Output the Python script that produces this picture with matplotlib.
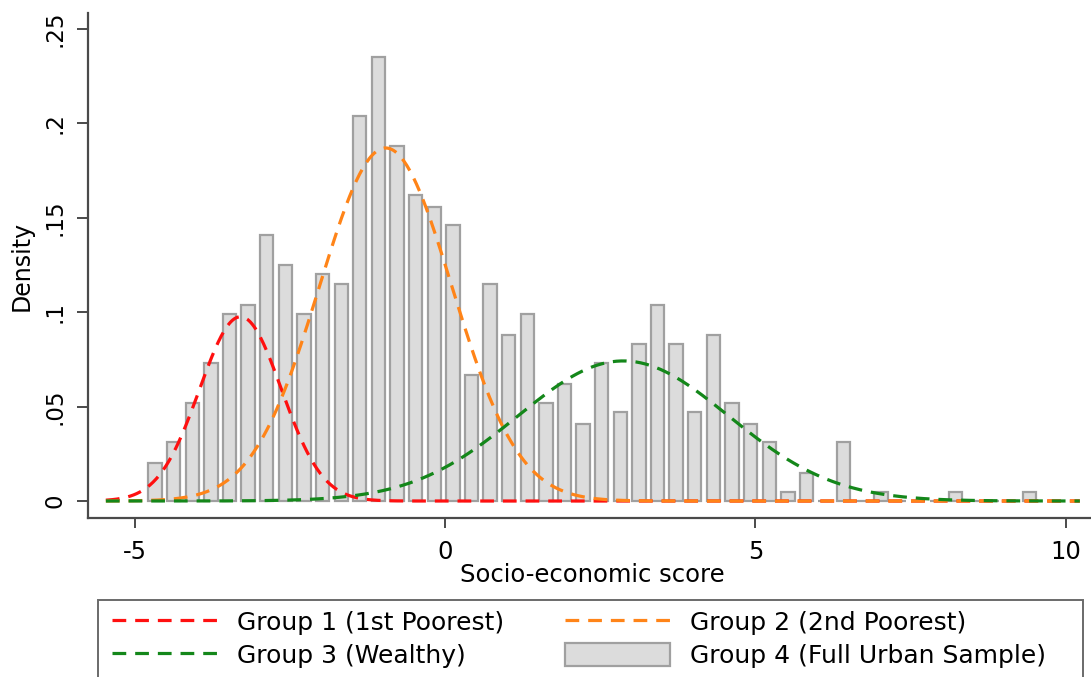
import numpy as np
import matplotlib
matplotlib.use("Agg")
import matplotlib.pyplot as plt
from matplotlib.patches import Rectangle, Patch
from matplotlib.lines import Line2D

# ---------------- data ----------------
bin_start = -4.827
bin_width = 0.30
density = [0.020, 0.031, 0.052, 0.073, 0.099, 0.104, 0.141, 0.125, 0.099, 0.120,
           0.115, 0.204, 0.235, 0.188, 0.162, 0.156, 0.146, 0.067, 0.115, 0.088,
           0.099, 0.052, 0.062, 0.041, 0.073, 0.047, 0.083, 0.104, 0.083, 0.047,
           0.088, 0.052, 0.041, 0.031, 0.005, 0.015, 0.000, 0.031, 0.000, 0.005,
           0.000, 0.000, 0.000, 0.005, 0.000, 0.000, 0.000, 0.005]

group_labels = ["Group 1 (1st Poorest)", "Group 2 (2nd Poorest)",
                "Group 3 (Wealthy)", "Group 4 (Full Urban Sample)"]
group_means = [-3.30, -0.96, 2.87]
group_sds = [0.66, 1.07, 1.70]
group_peaks = [0.0976, 0.187, 0.0742]
curve_range = (-5.47, 10.23)

xticks = [-5, 0, 5, 10]
xtick_labels = ["-5", "0", "5", "10"]
yticks = [0, 0.05, 0.10, 0.15, 0.20, 0.25]
ytick_labels = ["0", ".05", ".1", ".15", ".2", ".25"]
xlabel = "Socio-economic score"
ylabel = "Density"

# ---------------- style ----------------
plt.rcParams["font.family"] = ["DejaVu Sans"]
curve_colors = ["#ff1010", "#ff8418", "#14871a"]
bar_face = "#dcdcdc"
bar_edge = "#a0a0a0"
spine_col = "#4a4a4a"

W, H = 1091, 677
fig = plt.figure(figsize=(W / 100, H / 100), dpi=100)
ax_l, ax_r, ax_t, ax_b = 87.7, 1091.0, 13.0, 518.3
ax = fig.add_axes([ax_l / W, (H - ax_b) / H, (ax_r - ax_l) / W, (ax_b - ax_t) / H])

centers = bin_start + bin_width * (np.arange(len(density)) + 0.5)
ax.bar(centers, density, width=0.215, color=bar_face, edgecolor=bar_edge,
       linewidth=1.6, zorder=2)

xs = np.linspace(curve_range[0], curve_range[1], 600)
lw = 2.3
dash = (4.3, 2.8)
for mu, sd, pk, col in zip(group_means, group_sds, group_peaks, curve_colors):
    ys = pk * np.exp(-0.5 * ((xs - mu) / sd) ** 2)
    ax.plot(xs, ys, color=col, lw=lw, dashes=dash, zorder=3)

ax.set_xlim(-5.763, 10.41)
ax.set_ylim(-0.00916, 0.2585)

for s in ["top", "right"]:
    ax.spines[s].set_visible(False)
for s in ["left", "bottom"]:
    ax.spines[s].set_color(spine_col)
    ax.spines[s].set_linewidth(1.6)

ax.set_xticks(xticks)
ax.set_xticklabels(xtick_labels, fontsize=17.5)
ax.set_yticks(yticks)
ax.set_yticklabels(ytick_labels, fontsize=16.5, rotation=90, va="center")
ax.tick_params(axis="x", length=7, width=1.4, color=spine_col, pad=8.5)
ax.tick_params(axis="y", length=8, width=1.4, color=spine_col, pad=7)

fig.text(592 / W, 1 - 575 / H, xlabel, fontsize=17.5, ha="center", va="center")
fig.text(22 / W, 1 - 266 / H, ylabel, fontsize=17, ha="center", va="center",
         rotation=90)

# legend frame (extends below the figure edge as in the reference)
fig.patches.append(Rectangle((97.7 / W, -0.02), (1083.3 - 97.7) / W,
                             (H - 600) / H + 0.02, transform=fig.transFigure,
                             fill=False, edgecolor="#6a6a6a", linewidth=1.4))

def line_handle(c):
    return Line2D([], [], color=c, lw=lw, dashes=dash)

leg_kw = dict(loc="center left", frameon=False, borderpad=0, borderaxespad=0,
              fontsize=18, handlelength=4.2, handletextpad=0.78,
              handleheight=1.0, labelspacing=0.35, bbox_transform=fig.transFigure)
leg1 = fig.legend([line_handle(curve_colors[0]), line_handle(curve_colors[2])],
                  [group_labels[0], group_labels[2]],
                  bbox_to_anchor=(112 / W, 1 - 639 / H), **leg_kw)
leg2 = fig.legend([line_handle(curve_colors[1]),
                   Patch(facecolor=bar_face, edgecolor=bar_edge, linewidth=1.6)],
                  [group_labels[1], group_labels[3]],
                  bbox_to_anchor=(565 / W, 1 - 639 / H), **leg_kw)

fig.savefig("out.png", dpi=100)
